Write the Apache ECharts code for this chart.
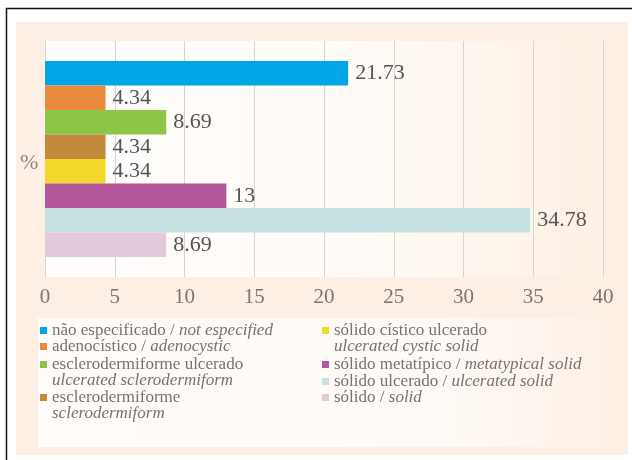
<!DOCTYPE html>
<html>
<head>
<meta charset="utf-8">
<script src="https://cdn.jsdelivr.net/npm/echarts@6/dist/echarts.min.js"></script>
<style>
  html, body { margin: 0; padding: 0; background: #ffffff; }
  #chart { width: 632px; height: 460px; }
</style>
</head>
<body>
<div id="chart"></div>
<script>
// Tumour types (Portuguese / English) and their share in %
const tiposPt = ['não especificado', 'adenocístico', 'esclerodermiforme ulcerado', 'esclerodermiforme',
                 'sólido cístico ulcerado', 'sólido metatípico', 'sólido ulcerado', 'sólido'];
const tiposEn = ['not especified', 'adenocystic', 'ulcerated sclerodermiform', 'sclerodermiform',
                 'ulcerated cystic solid', 'metatypical solid', 'ulcerated solid', 'solid'];
const percentuais = [21.73, 4.34, 8.69, 4.34, 4.34, 13, 34.78, 8.69];
const cores = ['#00a6e6', '#e98a3f', '#8dc646', '#c38a3d', '#f3d82a', '#b4569a', '#c6e2e3', '#e4c8dc'];
// legend entries whose English name sits on its own second line
const duasLinhas = [false, false, true, true, true, false, false, false];
const categorias = [''];

const serif = '"Liberation Serif", "DejaVu Serif", serif';

const series = tiposPt.map((nome, i) => ({
  name: nome,
  type: 'bar',
  data: [percentuais[i]],
  barWidth: 24.5,
  barGap: 0,
  itemStyle: { color: cores[i] },
  label: {
    show: true,
    position: 'right',
    distance: 7,
    formatter: p => String(p.value),
    fontFamily: serif,
    fontSize: 22,
    color: '#555'
  }
}));

// one legend block per entry, in two columns
const legendPos = [
  { left: 40, top: 322 }, { left: 40, top: 338 }, { left: 40, top: 356 }, { left: 40, top: 389 },
  { left: 322, top: 322 }, { left: 322, top: 356 }, { left: 322, top: 373 }, { left: 322, top: 389 }
];
const legends = tiposPt.map((nome, i) => {
  const two = duasLinhas[i];
  return {
    data: [{ name: nome, icon: two ? 'path://M0,0M0,32M0,4.5h7v7h-7z' : 'rect' }],
    left: legendPos[i].left,
    top: legendPos[i].top,
    padding: 0,
    itemWidth: 7,
    itemHeight: two ? 32 : 7,
    itemGap: 0,
    selectedMode: false,
    formatter: n => {
      const k = tiposPt.indexOf(n);
      return two ? '{pt|' + tiposPt[k] + '}\n{en|' + tiposEn[k] + '}'
                 : '{pt|' + tiposPt[k] + ' / }{en|' + tiposEn[k] + '}';
    },
    textStyle: {
      fontFamily: serif,
      fontSize: 17,
      color: '#747474',
      lineHeight: 16,
      rich: {
        pt: { fontFamily: serif, fontSize: 17, color: '#747474', lineHeight: 16 },
        en: { fontFamily: serif, fontSize: 17, color: '#747474', lineHeight: 16, fontStyle: 'italic' }
      }
    }
  };
});

const chart = echarts.init(document.getElementById('chart'), null, { renderer: 'canvas' });
chart.setOption({
  animation: false,
  backgroundColor: '#ffffff',
  graphic: [
    { type: 'rect', z: -10, shape: { x: 6.5, y: 8.5, width: 700, height: 600 },
      style: { fill: '#ffffff', stroke: '#111', lineWidth: 1.5 } },
    { type: 'rect', z: -9, shape: { x: 16, y: 22, width: 612, height: 433 },
      style: { fill: '#fdefe3' } },
    { type: 'rect', z: -8, shape: { x: 38, y: 318, width: 571, height: 129 },
      style: { fill: new echarts.graphic.LinearGradient(0, 0, 1, 0, [
        { offset: 0, color: '#fffcf9' }, { offset: 0.7, color: '#fffaf6' }, { offset: 1, color: '#fdf1e7' }]) } },
    { type: 'text', left: 20, top: 152, z: 5,
      style: { text: '%', fontFamily: serif, fontSize: 22, fill: '#8a8a8a' } }
  ],
  grid: {
    left: 45, right: 29, top: 41, bottom: 183,
    show: true,
    borderWidth: 0,
    backgroundColor: new echarts.graphic.LinearGradient(0, 0, 1, 0, [
      { offset: 0, color: '#fffefd' }, { offset: 0.6, color: '#fffaf5' }, { offset: 1, color: '#fdf0e4' }])
  },
  legend: legends,
  xAxis: {
    type: 'value',
    min: 0, max: 40, interval: 5,
    axisLine: { show: false },
    axisTick: { show: false },
    splitLine: { show: true, lineStyle: { color: '#d9d4cf', width: 1 } },
    axisLabel: { fontFamily: serif, fontSize: 21, color: '#777', margin: 10 }
  },
  yAxis: {
    type: 'category',
    data: categorias,
    axisLine: { show: false },
    axisTick: { show: false },
    axisLabel: { show: false }
  },
  series: series
});
</script>
</body>
</html>
